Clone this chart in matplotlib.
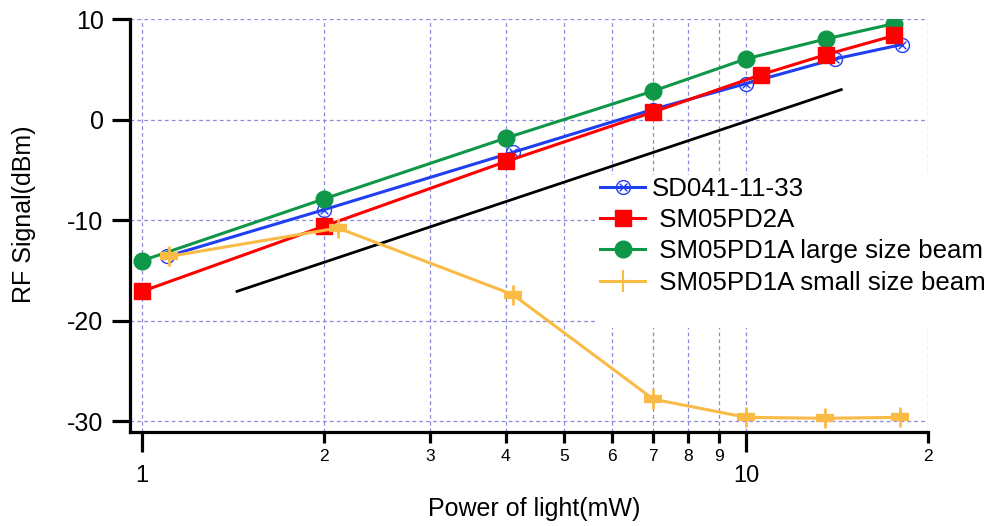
import matplotlib
matplotlib.use("Agg")
import matplotlib.pyplot as plt
from matplotlib.path import Path
from matplotlib.ticker import FixedLocator, FixedFormatter
from matplotlib.lines import Line2D
from matplotlib.patches import Rectangle

plt.rcParams['font.family'] = ['Liberation Sans', 'DejaVu Sans']

# ---- data ----
sd041_x = [1.10, 2.0, 4.11, 7.0, 10.0, 14.05, 18.1]
sd041_y = [-13.6, -8.96, -3.25, 1.0, 3.58, 6.04, 7.46]

pd2a_x = [1.0, 2.0, 4.01, 7.0, 10.6, 13.58, 17.6]
pd2a_y = [-17.08, -10.6, -4.15, 0.73, 4.48, 6.47, 8.36]

pd1a_large_x = [1.0, 2.0, 4.01, 7.0, 10.0, 13.58, 17.6]
pd1a_large_y = [-14.03, -7.89, -1.82, 2.82, 6.04, 8.03, 9.55]

pd1a_small_x = [1.11, 2.11, 4.11, 7.02, 10.0, 13.5, 18.0]
pd1a_small_y = [-13.6, -10.78, -17.4, -27.8, -29.6, -29.7, -29.6]

ref_x = [1.436, 14.37]
ref_y = [-17.08, 2.98]

labels = ["SD041-11-33", " SM05PD2A", " SM05PD1A large size beam", " SM05PD1A small size beam"]

yticks = [-30, -20, -10, 0, 10]
x_major = [1, 10]
x_major_labels = ["1", "10"]
x_minor = [2, 3, 4, 5, 6, 7, 8, 9, 20]
x_minor_labels = ["2", "3", "4", "5", "6", "7", "8", "9", "2"]
x_grid = [1, 2, 3, 4, 5, 6, 7, 8, 9, 10, 20]

# ---- colours ----
c_blue = "#1f3ff0"
c_red = "#ff0000"
c_green = "#0f9748"
c_yellow = "#f9bb46"
c_grid = "#8a8ad8"

fig = plt.figure(figsize=(9.88, 5.26), dpi=100)
ax = fig.add_axes([130/988, 1-432/526, (928-130)/988, (432-19)/526])

ax.set_xscale('log')
ax.set_xlim(0.955, 20.0)
ax.set_ylim(-31.06, 10.0)

# circle-with-x marker
circ = Path.unit_circle()
xs = Path([(-0.55, -0.55), (0.55, 0.55)], [Path.MOVETO, Path.LINETO])
xs2 = Path([(-0.55, 0.55), (0.55, -0.55)], [Path.MOVETO, Path.LINETO])
circx = Path.make_compound_path(circ, xs, xs2)

lw = 2.2
ax.plot(ref_x, ref_y, color='black', lw=2.0, zorder=2.5)
l1, = ax.plot(sd041_x, sd041_y, color=c_blue, lw=lw, marker=circx, ms=10,
              mfc='none', mec=c_blue, mew=1.0, zorder=3)
l3, = ax.plot(pd1a_large_x, pd1a_large_y, color=c_green, lw=lw, marker='o', ms=12,
              mfc=c_green, mec=c_green, zorder=4)
l2, = ax.plot(pd2a_x, pd2a_y, color=c_red, lw=lw, marker='s', ms=12,
              mfc=c_red, mec=c_red, zorder=5)
l4, = ax.plot(pd1a_small_x, pd1a_small_y, color=c_yellow, lw=lw, marker='|', ms=15,
              mew=2.0, mec=c_yellow, zorder=6)
ax.plot(pd1a_small_x, pd1a_small_y, linestyle='none', marker='_', ms=13,
        mew=6, mec=c_yellow, zorder=6)

# grid
for xv in x_grid:
    ax.axvline(xv, color=c_grid, lw=0.9, ls=(0, (3, 2.5)), zorder=1)
for yv in yticks:
    ax.axhline(yv, color=c_grid, lw=0.9, ls=(0, (3, 2.5)), zorder=1)

# white legend background hiding the grid
bg = Rectangle((597/988, 1-328/526), (988-597)/988, (328-175)/526,
               transform=fig.transFigure, facecolor='white', edgecolor='none',
               zorder=1.5, clip_on=False)
ax.add_patch(bg)

# spines
for s in ['top', 'right']:
    ax.spines[s].set_visible(False)
for s in ['left', 'bottom']:
    ax.spines[s].set_linewidth(2.3)
    ax.spines[s].set_color('black')

# ticks
ax.set_yticks(yticks)
ax.set_yticklabels([str(v) for v in yticks])
ax.tick_params(axis='y', which='major', length=13, width=2.3, labelsize=18, pad=6,
               direction='out')
ax.xaxis.set_major_locator(FixedLocator(x_major))
ax.xaxis.set_major_formatter(FixedFormatter(x_major_labels))
ax.xaxis.set_minor_locator(FixedLocator(x_minor))
ax.xaxis.set_minor_formatter(FixedFormatter(x_minor_labels))
ax.tick_params(axis='x', which='major', length=14.5, width=2.3, labelsize=17, pad=9,
               direction='out')
ax.tick_params(axis='x', which='minor', length=8, width=2.3, labelsize=12.5, pad=4,
               direction='out')

ax.set_xlabel("Power of light(mW)", fontsize=18)
ax.set_ylabel("RF Signal(dBm)", fontsize=18)
ax.xaxis.set_label_coords(0.506, -0.158)
ax.yaxis.set_label_coords(-0.118, 0.528)

leg = fig.legend([l1, l2, l3, Line2D([], [], color=c_yellow, lw=lw, marker='+', ms=16, mew=1.5)],
                 labels, loc='upper left',
                 bbox_to_anchor=(600/988, 1-177/526), bbox_transform=fig.transFigure,
                 fontsize=18.6, frameon=False, borderpad=0.0, borderaxespad=0,
                 handlelength=1.75, handletextpad=0.25, labelspacing=0.28)
leg.set_zorder(10)

fig.savefig("out.png", dpi=100)
